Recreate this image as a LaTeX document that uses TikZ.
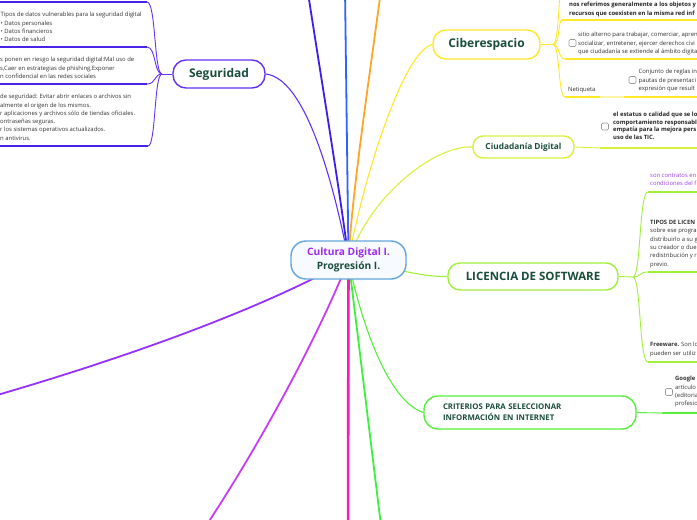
\documentclass[tikz,border=0pt]{standalone}
\usepackage{fontspec}
\setmainfont{Open Sans}
\pgfdeclarelayer{links}
\pgfsetlayers{links,main}
\definecolor{cSeg}{HTML}{6432F5}
\definecolor{cSegU}{HTML}{4A24E6}
\definecolor{cDBlue}{HTML}{3C1EEC}
\definecolor{cBlue}{HTML}{2D64FF}
\definecolor{cOrange}{HTML}{FFA528}
\definecolor{cYellow}{HTML}{FFE828}
\definecolor{cYellowL}{HTML}{FFF5A8}
\definecolor{cCiud}{HTML}{D8F23C}
\definecolor{cLic}{HTML}{A0F03C}
\definecolor{cCrit}{HTML}{55F03A}
\definecolor{cGreen}{HTML}{3CF03C}
\definecolor{cPink}{HTML}{FF19B4}
\definecolor{cMag}{HTML}{C83CF5}
\definecolor{cPurple}{HTML}{9632FF}
\definecolor{cCenter}{HTML}{64A5DC}
\definecolor{cCenterFill}{HTML}{F7FBFF}
\definecolor{cTitle}{HTML}{1A4D3A}
\definecolor{cPurpleT}{HTML}{A028F0}
\definecolor{cText}{HTML}{333333}
\definecolor{cViolet}{HTML}{A040F0}
\definecolor{cCheck}{HTML}{999999}
\tikzset{
  topic/.style={draw, fill=white, line width=1.4pt, text=cTitle, inner sep=0pt, align=center},
  small/.style={font=\fontsize{5.9}{8.3}\selectfont, text=cText, align=left, inner sep=0pt, anchor=north west},
  smallb/.style={small, font=\fontsize{5.9}{8.3}\selectfont\bfseries, text=black!85},
  chk/.style={draw=cCheck, fill=white, rounded corners=1.2pt, minimum size=7pt, inner sep=0pt, line width=0.6pt},
  mainlink/.style={line width=1.8pt},
  link/.style={line width=1.1pt},
  uline/.style={line width=1.5pt},
  brk/.style={line width=0.9pt},
}
\begin{document}
\begin{tikzpicture}[x=1pt,y=-1pt]
\useasboundingbox (0,0) rectangle (697,520);
\begin{pgfonlayer}{links}
\fill[white] (0,0) rectangle (697,520);
\end{pgfonlayer}

% ---------- topic nodes ----------
\node[topic, draw=cCenter, fill=cCenterFill, minimum width=115pt, minimum height=38pt, rounded corners=15pt,
      font=\fontsize{10.2}{14}\selectfont\bfseries] (c) at (348.5,260)
      {\textcolor{cPurpleT}{Cultura Digital I.}\\\textcolor{cTitle}{Progresión I.}};
\node[topic, draw=cSeg, minimum width=92pt, minimum height=28pt, rounded corners=13pt,
      font=\fontsize{12}{14}\selectfont\bfseries] (seg) at (219,74) {Seguridad};
\node[topic, draw=cYellow, minimum width=107pt, minimum height=29pt, rounded corners=13pt,
      font=\fontsize{12}{14}\selectfont\bfseries] (cib) at (486.5,44.5) {Ciberespacio};
\node[topic, draw=cCiud, minimum width=101pt, minimum height=22pt, rounded corners=10pt,
      font=\fontsize{8.3}{10}\selectfont\bfseries] (ciu) at (523.5,147) {Ciudadanía Digital};
\node[topic, draw=cLic, minimum width=170pt, minimum height=27pt, rounded corners=12pt,
      font=\fontsize{11.5}{14}\selectfont\bfseries] (lic) at (533,276.5) {LICENCIA DE SOFTWARE};
\node[topic, draw=cCrit, minimum height=33pt, rounded corners=14pt, align=left, text width=174pt, inner xsep=19pt,
      font=\fontsize{7.8}{11}\selectfont\bfseries] (crit) at (530,412.5)
      {CRITERIOS PARA SELECCIONAR\\INFORMACIÓN EN INTERNET};

% ---------- coordinates ----------
\coordinate (dbTop) at (303,-40);
\coordinate (blTop) at (345,-10);
\coordinate (orTop) at (385,-40);
\coordinate (gBot) at (384,550);
\coordinate (pBot) at (348,550);
\coordinate (mBot) at (200,535);
\coordinate (puEnd) at (-20,400);
\coordinate (J1) at (162,74);
\coordinate (J2) at (553,44.5);
\coordinate (J3) at (633,277);

% ---------- links (behind) ----------
\begin{pgfonlayer}{links}
\draw[mainlink, cDBlue] (dbTop) .. controls (318,60) and (340,190) .. (c.center);
\draw[mainlink, cBlue] (blTop) -- (c.center);
\draw[mainlink, cOrange] (orTop) .. controls (372,60) and (352,190) .. (c.center);
\draw[link, cSeg] (seg.east) .. controls (305,78) and (333,180) .. (c.center);
\draw[link, cYellow] (cib.west) .. controls (405,50) and (365,170) .. (c.center);
\draw[link, cCiud] (ciu.west) .. controls (435,145) and (370,195) .. (c.center);
\draw[link, cLic] (lic.west) .. controls (420,277) and (395,268) .. (c.center);
\draw[link, cCrit] (crit.west) .. controls (385,400) and (358,310) .. (c.center);
\draw[mainlink, cGreen] (c.center) -- (gBot);
\draw[line width=2.6pt, cPink] (c.center) -- (pBot);
\draw[mainlink, cMag] (c.center) .. controls (325,320) and (270,430) .. (mBot);
\draw[mainlink, cPurple] (c.center) .. controls (260,310) and (120,360) .. (puEnd);
\end{pgfonlayer}

% ---------- Seguridad children ----------
\coordinate (s0) at (147,2);
\coordinate (s1) at (147,47);
\coordinate (s2) at (147,84);
\coordinate (s3) at (148,146);
\draw[brk, cSeg] (seg.west) -- (J1);
\foreach \e/\yy in {s0/2,s1/47,s2/84,s3/146}{
  \draw[brk, cSeg] (J1) .. controls (154,74) and (156,\yy) .. (\e);
}
\draw[uline, cSegU] (0,2) -- (s0);
\draw[uline, cSegU] (0,47) -- (s1);
\draw[uline, cSegU] (0,84) -- (s2);
\draw[uline, cSegU] (0,146) -- (s3);
\node[small] (sa) at (0.5,12.1) {Tipos de datos vulnerables para la seguridad digital\\• Datos personales\\• Datos financieros\\• Datos de salud};
\node[small] (sb) at (0,57.1) {s ponen en riesgo la seguridad digital:Mal uso de\\s,Caer en estrategias de phishing,Exponer\\n confidencial en las redes sociales};
\node[small] (sc) at (0,94.1) {de seguridad: Evitar abrir enlaces o archivos sin\\almente el origen de los mismos.\\r aplicaciones y archivos sólo de tiendas oficiales.\\ontraseñas seguras.\\r los sistemas operativos actualizados.\\n antivirus.};

% ---------- Ciberespacio children ----------
\coordinate (c0) at (564,-25);
\coordinate (c1) at (562,20);
\coordinate (c2) at (565,59);
\coordinate (c3) at (565,97);
\draw[brk, cYellow] (cib.east) -- (J2);
\foreach \e/\yy in {c0/-25,c1/20,c2/59,c3/97}{
  \draw[brk, cYellow] (J2) .. controls (560,44.5) and (558,\yy) .. (\e);
}
\draw[uline, cYellow] (c1) -- (697,20);
\draw[uline, cYellow] (c2) -- (697,59);
\draw[uline, cYellow] (c3) -- (600,97);
\draw[uline, cYellowL] (600,97) -- (624,97);
\draw[uline, cYellow] (624,97) -- (697,97);
\node[smallb] (ca) at (569,2.1) {nos referimos generalmente a los objetos y\\recursos que coexisten en la misma red inf};
\node[chk] (cbx2) at (572.5,43) {};
\node[small] (cb) at (578,32.1) {sitio alterno para trabajar, comerciar, apren\\socializar, entretener, ejercer derechos civi\\que ciudadanía se extiende al ámbito digita};
\node[small] (net) at (568,87.1) {Netiqueta};
\node[chk] (cbx3) at (632.5,80) {};
\node[small] (cc) at (638.5,69.1) {Conjunto de reglas in\\pautas de presentaci\\expresión que result};

% ---------- Ciudadania child ----------
\coordinate (u1) at (600,148);
\draw[brk, cCiud] (ciu.east) -- (u1);
\draw[uline, cCiud] (u1) -- (697,148);
\node[chk] (ubx) at (605,126.5) {};
\node[smallb, font=\fontsize{5.9}{7.6}\selectfont\bfseries] (ua) at (613,112.1) {el estatus o calidad que se lo\\comportamiento responsabl\\empatía para la mejora pers\\uso de las TIC.};

% ---------- Licencia children ----------
\coordinate (l1) at (648,192);
\coordinate (l2) at (648,272);
\coordinate (l3) at (648,362);
\draw[brk, cLic] (lic.east) -- (J3);
\foreach \e/\yy in {l1/192,l2/272,l3/362}{
  \draw[brk, cLic] (J3) .. controls (641,277) and (639,\yy) .. (\e);
}
\draw[uline, cLic] (l1) -- (697,192);
\draw[uline, cLic] (l2) -- (697,272);
\draw[uline, cLic] (l3) -- (697,362);
\node[small, text=cViolet] (la) at (650,173.1) {son contratos en\\condiciones del f};
\node[small] (lb) at (650,220.1) {\textbf{TIPOS DE LICEN}\\sobre ese progra\\distribuirlo a su g\\su creador o due\\redistribución y r\\previo.};
\node[small] (lc) at (650,342.1) {\textbf{Freeware.} Son lo\\pueden ser utiliz};

% ---------- Criterios child ----------
\coordinate (g1) at (662,413);
\draw[brk, cCrit] (crit.east) -- (g1);
\draw[uline, cCrit] (g1) -- (697,413);
\node[chk] (gbx) at (669,392) {};
\node[small] (ga) at (675,376.1) {\textbf{Google}\\artículo\\(editoria\\profesio};
\end{tikzpicture}
\end{document}
